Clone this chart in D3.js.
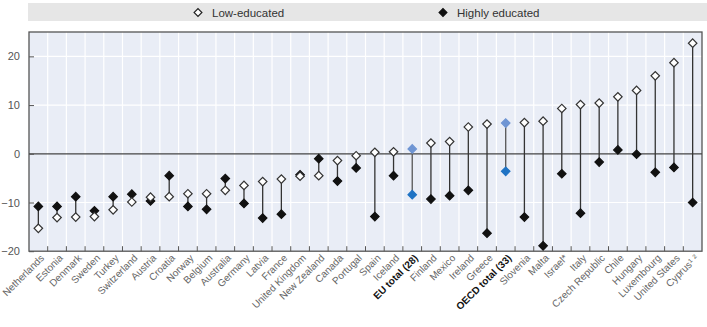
<!DOCTYPE html>
<html><head><meta charset="utf-8">
<script src="https://cdn.jsdelivr.net/npm/d3@7"></script>
<style>
body{margin:0;background:#fff;}
svg{display:block;}
</style></head>
<body>
<svg id="chart" width="707" height="327"></svg>
<script>
const categories = ["Netherlands","Estonia","Denmark","Sweden","Turkey","Switzerland","Austria","Croatia","Norway","Belgium","Australia","Germany","Latvia","France","United Kingdom","New Zealand","Canada","Portugal","Spain","Iceland","EU total (28)","Finland","Mexico","Ireland","Greece","OECD total (33)","Slovenia","Malta","Israel*","Italy","Czech Republic","Chile","Hungary","Luxembourg","United States","Cyprus¹ ²"];
const lowEducated = [-15.3,-13.1,-13.0,-12.9,-11.5,-9.9,-8.9,-8.8,-8.2,-8.2,-7.5,-6.5,-5.7,-5.2,-4.6,-4.5,-1.4,-0.4,0.3,0.4,1.0,2.2,2.5,5.5,6.1,6.3,6.4,6.7,9.3,10.1,10.4,11.7,13.0,16.0,18.7,22.7];
const highlyEducated = [-10.8,-10.8,-8.8,-11.7,-8.8,-8.3,-9.7,-4.5,-10.8,-11.4,-5.1,-10.2,-13.2,-12.4,-4.3,-1.0,-5.6,-2.9,-12.9,-4.5,-8.4,-9.3,-8.6,-7.5,-16.3,-3.6,-13.0,-18.9,-4.1,-12.2,-1.7,0.8,-0.1,-3.8,-2.8,-10.0];
const totals = ["EU total (28)","OECD total (33)"];
const yTicks = [-20,-10,0,10,20];
const legendLabels = ["Low-educated","Highly educated"];

const svg = d3.select("#chart");
const m = {left:29, right:702, top:32, bottom:251.2};
const x = d3.scaleBand().domain(categories).range([m.left, m.right]);
const y = d3.scaleLinear().domain([-20,25]).range([m.bottom, m.top]);

// legend band
svg.append("rect").attr("x",28).attr("y",3).attr("width",679).attr("height",18).attr("fill","#e6e6e6");
function diamond(g, cx, cy, fill, stroke, s){
  g.append("rect").attr("x",cx-s/2).attr("y",cy-s/2).attr("width",s).attr("height",s)
   .attr("transform",`rotate(45,${cx},${cy})`).attr("fill",fill).attr("stroke",stroke).attr("stroke-width",1.2);
}
const lg = svg.append("g");
diamond(lg,198,12.5,"#fff","#222",5.5);
lg.append("text").attr("x",212).attr("y",16.5).text(legendLabels[0]);
diamond(lg,443,12.5,"#111","#111",5.5);
lg.append("text").attr("x",457).attr("y",16.5).text(legendLabels[1]);
lg.selectAll("text").attr("font-family","'Liberation Sans Narrow','Arial Narrow',Arial,sans-serif").attr("font-size",11.5).attr("fill","#333");

// plot bg
svg.append("rect").attr("x",m.left).attr("y",m.top).attr("width",m.right-m.left).attr("height",m.bottom-m.top).attr("fill","#e9edf6");
// gridlines
const grid = svg.append("g").attr("stroke","#fff").attr("stroke-width",1.2);
categories.forEach((c,i)=>{ if(i>0){ const xx = x(c); grid.append("line").attr("x1",xx).attr("x2",xx).attr("y1",m.top).attr("y2",m.bottom);} });
yTicks.filter(t=>t!==0 && t!==-20).forEach(t=>{ grid.append("line").attr("x1",m.left).attr("x2",m.right).attr("y1",y(t)).attr("y2",y(t)); });

// frame
svg.append("rect").attr("x",m.left).attr("y",m.top).attr("width",m.right-m.left).attr("height",m.bottom-m.top).attr("fill","none").attr("stroke","#555").attr("stroke-width",1.3);
// zero line
svg.append("line").attr("x1",m.left).attr("x2",m.right).attr("y1",y(0)).attr("y2",y(0)).attr("stroke","#444").attr("stroke-width",1.3);

// y axis
const yAxis = d3.axisLeft(y).tickValues(yTicks).tickSize(-5).tickPadding(9);
const ya = svg.append("g").attr("transform",`translate(${m.left},0)`).call(yAxis);
ya.select(".domain").remove();
ya.selectAll("line").attr("stroke","#555");
ya.selectAll("text").attr("font-family","Arial,'Liberation Sans',sans-serif").attr("font-size",11).attr("fill","#555");

// x axis ticks at boundaries
const xt = svg.append("g").attr("stroke","#555").attr("stroke-width",1);
categories.forEach((c,i)=>{ if(i>0){ const xx=x(c); xt.append("line").attr("x1",xx).attr("x2",xx).attr("y1",m.bottom-5).attr("y2",m.bottom);} });
// x labels
const xl = svg.append("g");
categories.forEach(c=>{
  const cx = x(c)+x.bandwidth()/2+4, cy = m.bottom+5;
  xl.append("text").attr("transform",`translate(${cx},${cy}) rotate(-45)`)
    .attr("text-anchor","end").attr("dy","0.35em")
    .attr("font-family","'Liberation Sans Narrow','Arial Narrow',Arial,sans-serif")
    .attr("font-size",10).attr("font-weight",totals.includes(c)?"bold":"normal")
    .attr("fill",totals.includes(c)?"#111":"#666").text(c);
});

// marks
const marks = svg.append("g");
categories.forEach((c,i)=>{
  const cx = x(c)+x.bandwidth()/2;
  marks.append("line").attr("x1",cx).attr("x2",cx).attr("y1",y(lowEducated[i])).attr("y2",y(highlyEducated[i])).attr("stroke",totals.includes(c)?"#555":"#333").attr("stroke-width",1.3);
});
categories.forEach((c,i)=>{
  const cx = x(c)+x.bandwidth()/2;
  const tot = totals.includes(c);
  diamond(marks,cx,y(highlyEducated[i]),tot?"#1f73c4":"#111",tot?"#1f73c4":"#111",6);
  diamond(marks,cx,y(lowEducated[i]),tot?"#6f95d3":"#fff",tot?"#6f95d3":"#333",6);
});
</script>
</body></html>
